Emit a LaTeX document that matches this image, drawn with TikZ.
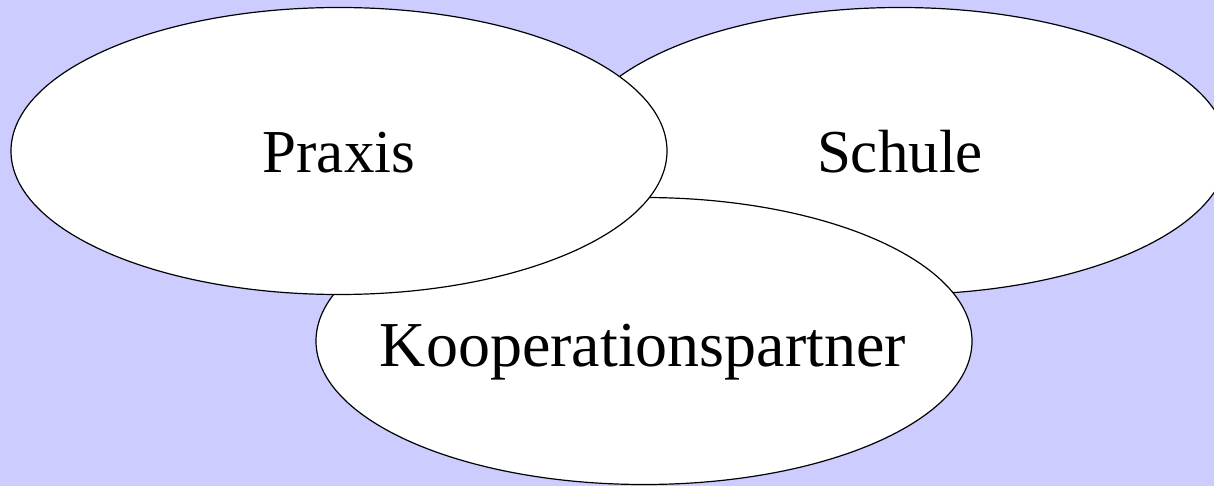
\documentclass[tikz,border=0pt]{standalone}
\usepackage{fontspec}
\setmainfont{Liberation Serif}
\usetikzlibrary{shapes.geometric}
\definecolor{bgpurple}{HTML}{CCCCFF}
\begin{document}
\begin{tikzpicture}[x=1pt,y=-1pt,
  oval/.style={ellipse, draw=black, fill=white, line width=1.2pt,
    minimum width=656pt, minimum height=287pt, inner sep=0pt},
  lbl/.style={anchor=base, inner sep=0pt, font=\fontsize{61}{70}\selectfont}]
\useasboundingbox (0,0) rectangle (1214,486);
\clip (0,0) rectangle (1214,486);
\fill[bgpurple] (0,0) rectangle (1214,486);
\node[oval] (S) at (900,151) {};
\node[oval] (K) at (644,341) {};
\node[oval] (P) at (339,151) {};
\node[lbl] (Pt) at ([yshift=-22pt]P.center) {Praxis};
\node[lbl] (St) at ([yshift=-22pt]S.center) {Schule};
\node[lbl, font=\fontsize{64}{72}\selectfont] (Kt) at ([yshift=-25.5pt,xshift=-1pt]K.center) {Kooperationspartner};
\end{tikzpicture}
\end{document}
